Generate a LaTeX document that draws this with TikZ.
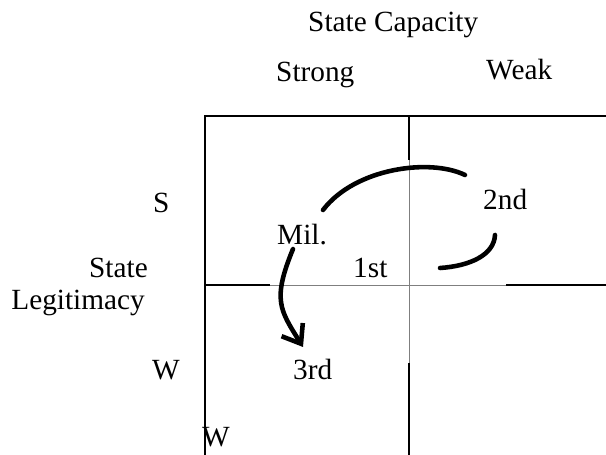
\documentclass[tikz,border=0pt]{standalone}
\usepackage{fontspec}
\setmainfont{Liberation Serif}
\usepackage{tikz}
\usetikzlibrary{arrows.meta,positioning,calc}
\definecolor{gridgray}{HTML}{7F7F7F}

\begin{document}
\begin{tikzpicture}[x=0.03cm, y=-0.03cm,
    lbl/.style={inner sep=0pt, font=\fontsize{25}{29}\selectfont},
    grid/.style={line width=1.6pt},
    thin grid/.style={line width=0.8pt, draw=gridgray},
    swing/.style={line width=3.9pt, line cap=round}]
    \useasboundingbox (0,0) rectangle (606,455);
    % headings
    \node[lbl, anchor=base west] (cap) at (308,32) {State Capacity};
    \node[lbl, anchor=base west] (strong) at (276,82) {Strong};
    \node[lbl, anchor=base west] (weak) at (486,80) {Weak};
    \node[lbl, anchor=base west] (ls) at (153,213) {S};
    \node[lbl, anchor=base east] (state) at (148,278) {State};
    \node[lbl, anchor=base east] (legit) at (145,310) {Legitimacy};
    \node[lbl, anchor=base west] (lw) at (152,380) {W};
    \node[lbl, anchor=base west] (bw) at (202,447) {W};
    % cell labels
    \node[lbl, anchor=base west] (mil) at (277,245) {Mil.};
    \node[lbl, anchor=base west] (first) at (353,278) {1st};
    \node[lbl, anchor=base west] (second) at (483,210) {2nd};
    \node[lbl, anchor=base west] (third) at (293,380) {3rd};
    % grid
    \draw[grid] (205,455) -- (205,116) -- (606,116);
    \draw[grid] (409,116) -- (409,160);
    \draw[thin grid] (409,160) -- (409,363);
    \draw[grid] (409,363) -- (409,455);
    \draw[grid] (205,285) -- (270,285);
    \draw[thin grid] (270,285) -- (506,285);
    \draw[grid] (506,285) -- (606,285);
    % swings
    \coordinate (topA) at (323,210);
    \coordinate (topB) at (465,175);
    \coordinate (rgtA) at (495,235);
    \coordinate (rgtB) at (440,268);
    \coordinate (dnA) at (293,249);
    \coordinate (dnB) at (303,347);
    \draw[swing] (topA) .. controls (355,168) and (430,158) .. (topB);
    \draw[swing] (rgtA) .. controls (494,255) and (470,266) .. (rgtB);
    \draw[swing, -{Straight Barb[length=5mm, width=7.5mm]}] (dnA) .. controls (272,300) and (280,310) .. (dnB);
\end{tikzpicture}
\end{document}
